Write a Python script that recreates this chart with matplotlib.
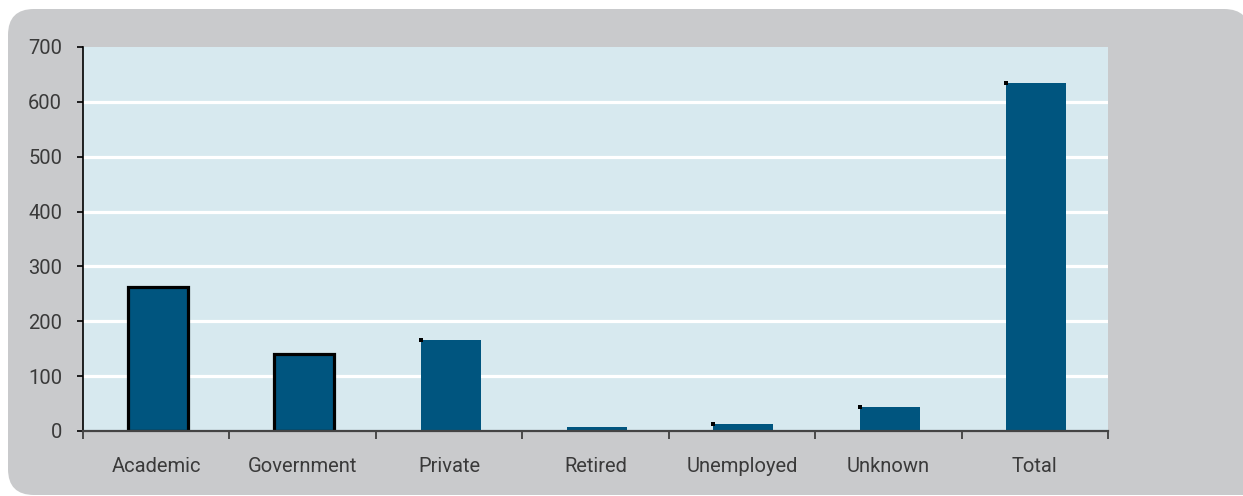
import matplotlib
matplotlib.use("Agg")
import matplotlib.pyplot as plt
from matplotlib.patches import FancyBboxPatch, Rectangle

# data
categories = ["Academic", "Government", "Private", "Retired", "Unemployed", "Unknown", "Total"]
values = [262, 141, 165, 7, 12, 43, 635]
outlined = [True, True, False, False, False, False, False]
corner_dot = [False, False, True, False, True, True, True]
yticks = [0, 100, 200, 300, 400, 500, 600, 700]

W, H = 1243, 496
fig = plt.figure(figsize=(W / 100, H / 100), dpi=100, facecolor="white")

# rounded grey panel behind everything
bg = fig.add_axes([0, 0, 1, 1])
bg.set_xlim(0, W)
bg.set_ylim(H, 0)
bg.set_axis_off()
bg.add_patch(FancyBboxPatch((8, 9), 1250 - 8, 495 - 9,
                            boxstyle="round,pad=0,rounding_size=26",
                            facecolor="#c9cacc", edgecolor="none"))
# panel runs off the bottom right of the picture
bg.add_patch(Rectangle((1150, 300), 120, 195, facecolor="#c9cacc", edgecolor="none"))

left, right, top, bottom = 83, 1108, 47, 431
ax = fig.add_axes([left / W, 1 - bottom / H, (right - left) / W, (bottom - top) / H])
ax.set_facecolor("#d7e9ef")

bar_w = 0.41
off = 0.01
x = list(range(len(categories)))
for i, v in enumerate(values):
    if outlined[i]:
        ax.bar(i + off, v, width=bar_w, color="#00557f", edgecolor="black", linewidth=2.3, zorder=3)
    else:
        ax.bar(i + off, v, width=bar_w, color="#00557f", edgecolor="none", zorder=3)
    if corner_dot[i]:
        ax.plot(i + off - bar_w / 2, v, marker="s", markersize=2.3, color="black",
                markeredgewidth=0, zorder=4, clip_on=False)

for t in yticks[1:-1]:
    ax.axhline(t, color="white", linewidth=2.3, zorder=1)

ax.set_xlim(-0.5, len(categories) - 0.5)
ax.set_ylim(0, 700)
ax.set_yticks(yticks)
ax.set_xticks(x)
ax.set_xticklabels(categories)
ax.set_xticks([i - 0.5 for i in range(len(categories) + 1)], minor=True)

font = dict(family=["Roboto", "DejaVu Sans"], size=14.5, color="#3a3a3a")
for lab in ax.get_xticklabels() + ax.get_yticklabels():
    lab.set_fontfamily(font["family"])
    lab.set_fontsize(font["size"])
    lab.set_color(font["color"])

ax.tick_params(axis="x", which="major", length=0, pad=19)
ax.tick_params(axis="x", which="minor", length=5.5, width=1.2, color="#333333", direction="out")
ax.tick_params(axis="y", length=4.5, width=1.2, color="black", pad=10.5)

for s in ["top", "right"]:
    ax.spines[s].set_visible(False)
ax.spines["left"].set_color("black")
ax.spines["left"].set_linewidth(1.2)
ax.spines["bottom"].set_color("#444444")
ax.spines["bottom"].set_linewidth(1.6)
ax.spines["bottom"].set_zorder(5)

fig.savefig("out.png", dpi=100, facecolor="white")
